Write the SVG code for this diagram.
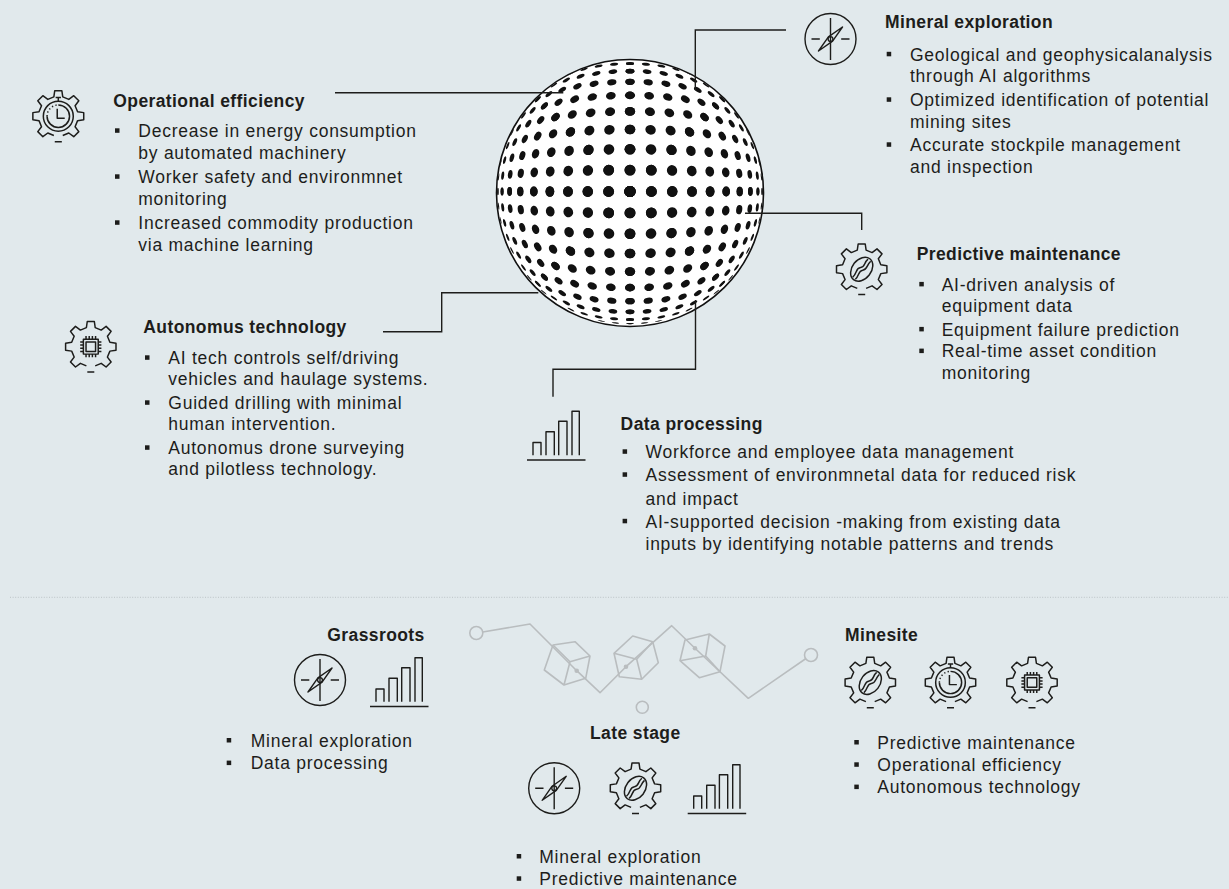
<svg xmlns="http://www.w3.org/2000/svg" width="1229" height="889" viewBox="0 0 1229 889">
  <style>
    .t { font-family: "Liberation Sans", Arial, sans-serif; font-size: 17.5px; font-weight: 700; letter-spacing: 0.4px; fill: #1d1d1b; }
    .b { font-family: "Liberation Sans", Arial, sans-serif; font-size: 17.5px; letter-spacing: 0.75px; fill: #1d1d1b; }
    .ic { fill: none; stroke: #1d1d1b; stroke-width: 1.4; stroke-linejoin: round; stroke-linecap: butt; }
    .con { fill: none; stroke: #1d1d1b; stroke-width: 1.4; }
    .net { fill: none; stroke: #b9bdbf; stroke-width: 1.6; stroke-linejoin: round; }
    .netdot { fill: #b9bdbf; }
    .sq { fill: #1d1d1b; }
  </style>
  <defs>
    <rect id="sq" class="sq" width="4.5" height="4.5"/>

    <!-- open-bottomed cog outline, outer radius 24 -->
    <path id="cog" class="ic" d="M-4.16,18.03 L-9.8,15.69 L-14.44,19.17 L-19.17,14.44 L-15.69,9.8 L-18.03,4.16 L-23.77,3.34 L-23.77,-3.34 L-18.03,-4.16 L-15.69,-9.8 L-19.17,-14.44 L-14.44,-19.17 L-9.8,-15.69 L-4.16,-18.03 L-3.34,-23.77 L3.34,-23.77 L4.16,-18.03 L9.8,-15.69 L14.44,-19.17 L19.17,-14.44 L15.69,-9.8 L18.03,-4.16 L23.77,-3.34 L23.77,3.34 L18.03,4.16 L15.69,9.8 L19.17,14.44 L14.44,19.17 L9.8,15.69 L4.16,18.03 M-3.3,23.8 H3.3"/>

    <g id="gear-timer">
      <use href="#cog"/>
      <circle class="ic" r="14"/>
      <path class="ic" d="M0,-10.5 A10.5,10.5 0 1 1 -10.5,0"/>
      <path class="ic" stroke-dasharray="1.2 2.2" d="M-10.5,0 A10.5,10.5 0 0 1 0,-10.5"/>
      <path class="ic" d="M-1,-7 V2 H6 M-2.5,-17.5 H2.5 M0,-17.5 V-14"/>
    </g>

    <g id="gear-chip">
      <use href="#cog"/>
      <rect class="ic" x="-7" y="-7" width="14" height="14"/>
      <rect class="ic" x="-4.5" y="-4.5" width="9" height="9"/>
      <path class="ic" stroke-width="1" d="M-4.5,-7 V-10 M-1.5,-7 V-10 M1.5,-7 V-10 M4.5,-7 V-10 M-4.5,7 V10 M-1.5,7 V10 M1.5,7 V10 M4.5,7 V10 M-7,-4.5 H-10 M-7,-1.5 H-10 M-7,1.5 H-10 M-7,4.5 H-10 M7,-4.5 H10 M7,-1.5 H10 M7,1.5 H10 M7,4.5 H10"/>
    </g>

    <g id="gear-link">
      <use href="#cog"/>
      <ellipse class="ic" rx="12.5" ry="9" transform="rotate(-52)"/>
      <path class="ic" d="M-8.5,7.5 C-4,3.5 -6,-1 -1,-1.5 C3.5,-2 2,-6.5 6,-9.5"/>
      <path class="ic" d="M-6,9.5 C-2,6 -3.5,1.5 1,1 C5.5,0.5 4.5,-4 8.5,-7.5"/>
    </g>

    <g id="compass">
      <circle class="ic" r="25.5"/>
      <path class="ic" d="M0,-21 V21 M-19,0 H-10.7 M10.7,0 H19"/>
      <path class="ic" fill="#e1e9ec" d="M12,-12 L2.1,2.1 L-12,12 L-2.1,-2.1 Z"/>
      <circle class="ic" fill="#e1e9ec" r="2.4"/>
    </g>

    <path id="bars" class="ic" d="M6,44.7 V32 H14 V44.7 M19,44.7 V21.3 H27.3 V44.7 M31.7,44.7 V10.7 H40 V44.7 M45,44.7 V0.7 H52.3 V44.7 M0,49.5 H58.5"/>

    <!-- one octant of the spherized dot grid; mirrored into a full sphere -->
    <g id="oct" fill="#111">
      <circle r="5.5"/>
      <ellipse transform="translate(21.41 0)" rx="5.43" ry="5.48"/>
      <ellipse transform="translate(21.31 21.31) rotate(45)" rx="5.36" ry="5.45"/>
      <ellipse transform="translate(42.25 0)" rx="5.22" ry="5.41"/>
      <ellipse transform="translate(42.07 21.03) rotate(26.6)" rx="5.15" ry="5.38"/>
      <ellipse transform="translate(41.51 41.51) rotate(45)" rx="4.94" ry="5.31"/>
      <ellipse transform="translate(62 0)" rx="4.87" ry="5.28"/>
      <ellipse transform="translate(61.73 20.58) rotate(18.4)" rx="4.8" ry="5.26"/>
      <ellipse transform="translate(60.91 40.61) rotate(33.7)" rx="4.6" ry="5.2"/>
      <ellipse transform="translate(59.55 59.55) rotate(45)" rx="4.26" ry="5.08"/>
      <ellipse transform="translate(80.12 0)" rx="4.39" ry="5.13"/>
      <ellipse transform="translate(79.77 19.94) rotate(14)" rx="4.33" ry="5.1"/>
      <ellipse transform="translate(78.7 39.35) rotate(26.6)" rx="4.12" ry="5.03"/>
      <ellipse transform="translate(76.94 57.7) rotate(36.9)" rx="3.8" ry="4.92"/>
      <ellipse transform="translate(74.49 74.49) rotate(45)" rx="3.36" ry="4.76"/>
      <ellipse transform="translate(96.17 0)" rx="3.8" ry="4.92"/>
      <ellipse transform="translate(95.73 19.15) rotate(11.3)" rx="3.74" ry="4.9"/>
      <ellipse transform="translate(94.43 37.77) rotate(21.8)" rx="3.55" ry="4.84"/>
      <ellipse transform="translate(92.26 55.36) rotate(31)" rx="3.24" ry="4.72"/>
      <ellipse transform="translate(89.31 71.45) rotate(38.7)" rx="2.81" ry="4.57"/>
      <ellipse transform="translate(85.57 85.57) rotate(45)" rx="2.28" ry="4.38"/>
      <ellipse transform="translate(109.7 0)" rx="3.11" ry="4.68"/>
      <ellipse transform="translate(109.2 18.2) rotate(9.5)" rx="3.05" ry="4.66"/>
      <ellipse transform="translate(107.7 35.9) rotate(18.4)" rx="2.87" ry="4.6"/>
      <ellipse transform="translate(105.17 52.58) rotate(26.6)" rx="2.57" ry="4.48"/>
      <ellipse transform="translate(101.69 67.79) rotate(33.7)" rx="2.17" ry="4.34"/>
      <ellipse transform="translate(97.36 81.13) rotate(39.8)" rx="1.67" ry="4.15"/>
      <ellipse transform="translate(92.19 92.19) rotate(45)" rx="1.09" ry="3.93"/>
      <ellipse transform="translate(120.37 0)" rx="2.34" ry="4.4"/>
      <ellipse transform="translate(119.79 17.11) rotate(8.1)" rx="2.28" ry="4.38"/>
      <ellipse transform="translate(118.08 33.74) rotate(16)" rx="2.12" ry="4.32"/>
      <ellipse transform="translate(115.24 49.39) rotate(23.2)" rx="1.84" ry="4.21"/>
      <ellipse transform="translate(111.38 63.65) rotate(29.7)" rx="1.45" ry="4.07"/>
      <ellipse transform="translate(106.49 76.07) rotate(35.5)" rx="0.99" ry="3.89"/>
      <ellipse transform="translate(100.66 86.28) rotate(40.6)" rx="0.55" ry="3.68"/>
      <ellipse transform="translate(127.91 0)" rx="1.51" ry="4.09"/>
      <ellipse transform="translate(127.29 15.91) rotate(7.1)" rx="1.45" ry="4.07"/>
      <ellipse transform="translate(125.39 31.35) rotate(14)" rx="1.3" ry="4.01"/>
      <ellipse transform="translate(122.31 45.87) rotate(20.6)" rx="1.04" ry="3.91"/>
      <ellipse transform="translate(118.03 59.01) rotate(26.6)" rx="0.69" ry="3.78"/>
      <ellipse transform="translate(132.11 0)" rx="0.63" ry="3.76"/>
      <ellipse transform="translate(131.44 14.6) rotate(6.3)" rx="0.59" ry="3.74"/>
      <ellipse transform="translate(129.41 28.76) rotate(12.5)" rx="0.52" ry="3.68"/>
    </g>
    <g id="quad">
      <use href="#oct"/>
      <use href="#oct" transform="matrix(0 1 1 0 0 0)"/>
    </g>
    <clipPath id="ball-clip">
      <circle cx="630" cy="193" r="133"/>
    </clipPath>
  </defs>

  <rect width="1229" height="889" fill="#e1e9ec"/>

  <!-- halftone sphere -->
  <g id="sphere">
    <circle cx="630" cy="193" r="133.5" fill="#ffffff"/>
    <g clip-path="url(#ball-clip)">
      <g transform="translate(630 191.5)">
        <use href="#quad"/>
        <use href="#quad" transform="scale(-1 1)"/>
        <use href="#quad" transform="scale(1 -1)"/>
        <use href="#quad" transform="scale(-1 -1)"/>
      </g>
    </g>
    <circle cx="630" cy="193" r="133.5" fill="none" stroke="#111" stroke-width="1.6"/>
  </g>

  <!-- leader lines from the sphere to each topic -->
  <g id="connectors">
    <polyline class="con" points="335,92.7 563.3,92.7"/>
    <polyline class="con" points="786,30 695.3,30 695.3,90"/>
    <polyline class="con" points="745,213.3 861.7,213.3 861.7,230"/>
    <polyline class="con" points="383,331.7 441.7,331.7 441.7,292.7 538.3,292.7"/>
    <polyline class="con" points="695.5,300 695.5,369.3 553,369.3 553,396.7"/>
  </g>

  <g id="node-operational-efficiency">
    <use href="#gear-timer" transform="translate(58.3 116.2) scale(1.07)"/>
    <text class="t" x="113.3" y="107">Operational efficiency</text>
    <use href="#sq" x="115" y="128.3"/>
    <use href="#sq" x="115" y="174.3"/>
    <use href="#sq" x="115" y="220.3"/>
    <text class="b" x="138.3" y="137">Decrease in energy consumption</text>
    <text class="b" x="138.3" y="159">by automated machinery</text>
    <text class="b" x="138.3" y="183">Worker safety and environmnet</text>
    <text class="b" x="138.3" y="205">monitoring</text>
    <text class="b" x="138.3" y="229">Increased commodity production</text>
    <text class="b" x="138.3" y="251">via machine learning</text>
  </g>

  <g id="node-mineral-exploration">
    <use href="#compass" transform="translate(830.5 39)"/>
    <text class="t" x="885" y="28">Mineral exploration</text>
    <use href="#sq" x="886.7" y="51.8"/>
    <use href="#sq" x="886.7" y="97.3"/>
    <use href="#sq" x="886.7" y="142.3"/>
    <text class="b" x="910" y="60.5">Geological and geophysicalanalysis</text>
    <text class="b" x="910" y="82">through AI algorithms</text>
    <text class="b" x="910" y="106">Optimized identification of potential</text>
    <text class="b" x="910" y="127.5">mining sites</text>
    <text class="b" x="910" y="151">Accurate stockpile management</text>
    <text class="b" x="910" y="172.5">and inspection</text>
  </g>

  <g id="node-predictive-maintenance">
    <use href="#gear-link" transform="translate(861.7 269.2) scale(1.06)"/>
    <text class="t" x="916.7" y="259.5">Predictive maintenance</text>
    <use href="#sq" x="919.3" y="281.9"/>
    <use href="#sq" x="919.3" y="326.9"/>
    <use href="#sq" x="919.3" y="348.6"/>
    <text class="b" x="941.7" y="290.6">AI-driven analysis of</text>
    <text class="b" x="941.7" y="312.3">equipment data</text>
    <text class="b" x="941.7" y="335.6">Equipment failure prediction</text>
    <text class="b" x="941.7" y="357.3">Real-time asset condition</text>
    <text class="b" x="941.7" y="379">monitoring</text>
  </g>

  <g id="node-autonomus-technology">
    <use href="#gear-chip" transform="translate(90.8 346.7) scale(1.06)"/>
    <text class="t" x="143.3" y="333">Autonomus technology</text>
    <use href="#sq" x="145" y="355.3"/>
    <use href="#sq" x="145" y="400.3"/>
    <use href="#sq" x="145" y="445.3"/>
    <text class="b" x="168.3" y="364">AI tech controls self/driving</text>
    <text class="b" x="168.3" y="385">vehicles and haulage systems.</text>
    <text class="b" x="168.3" y="409">Guided drilling with minimal</text>
    <text class="b" x="168.3" y="430">human intervention.</text>
    <text class="b" x="168.3" y="454">Autonomus drone surveying</text>
    <text class="b" x="168.3" y="475">and pilotless technology.</text>
  </g>

  <g id="node-data-processing">
    <use href="#bars" transform="translate(527 410.5)"/>
    <text class="t" x="620.6" y="429.5">Data processing</text>
    <use href="#sq" x="622.6" y="449.3"/>
    <use href="#sq" x="622.6" y="472.3"/>
    <use href="#sq" x="622.6" y="518.8"/>
    <text class="b" x="645.5" y="458">Workforce and employee data management</text>
    <text class="b" x="645.5" y="481">Assessment of environmnetal data for reduced risk</text>
    <text class="b" x="645.5" y="504.5">and impact</text>
    <text class="b" x="645.5" y="527.5">AI-supported decision -making from existing data</text>
    <text class="b" x="645.5" y="550">inputs by identifying notable patterns and trends</text>
  </g>

  <!-- section divider -->
  <line x1="10" y1="597.3" x2="1229" y2="597.3" stroke="#bcc3c6" stroke-width="1" stroke-dasharray="1 1.6"/>

  <!-- decorative chain of cubes -->
  <g id="cube-chain">
    <circle class="net" cx="476.3" cy="633" r="6.5"/>
    <circle class="net" cx="811" cy="655" r="6.5"/>
    <circle class="net" cx="642.3" cy="707.3" r="6"/>
    <polyline class="net" points="482.8,632 530,624 576.7,670.7 600,692.7 626,666.7 671.7,625.7 695,648.3 748.3,698.3 806,658.5"/>
    <path class="net" d="M553,645 L575,641.7 L590,656 L585.7,678.3 L564,685 L544.3,670 Z M553,645 L570,661.7 L590,656 M570,661.7 L564,685"/>
    <path class="net" d="M614,653.3 L632.7,636 L652.7,641.7 L658.3,662.7 L641.7,679.3 L619.3,676.7 Z M614,653.3 L636.7,659.3 L652.7,641.7 M636.7,659.3 L641.7,679.3"/>
    <path class="net" d="M685,640 L709.3,634 L725,646 L720,671.7 L699.3,677.7 L680,660.7 Z M680,660.7 L705.7,656 L709.3,634 M705.7,656 L720,671.7"/>
    <circle class="netdot" cx="576.7" cy="670.7" r="2.3"/>
    <circle class="netdot" cx="626" cy="666.7" r="2.3"/>
    <circle class="netdot" cx="695" cy="648.3" r="2.3"/>
  </g>

  <g id="node-grassroots">
    <text class="t" x="327.3" y="641.2">Grassroots</text>
    <use href="#compass" transform="translate(320 680)"/>
    <use href="#bars" transform="translate(370 657)"/>
    <use href="#sq" x="226.7" y="738"/>
    <use href="#sq" x="226.7" y="760.6"/>
    <text class="b" x="250.7" y="746.7">Mineral exploration</text>
    <text class="b" x="250.7" y="769.3">Data processing</text>
  </g>

  <g id="node-late-stage">
    <text class="t" x="590" y="739">Late stage</text>
    <use href="#compass" transform="translate(554.2 788.3)"/>
    <use href="#gear-link" transform="translate(635.5 788.3) scale(1.06)"/>
    <use href="#bars" transform="translate(687.7 764)"/>
    <use href="#sq" x="516.7" y="854"/>
    <use href="#sq" x="516.7" y="876.3"/>
    <text class="b" x="539.3" y="862.7">Mineral exploration</text>
    <text class="b" x="539.3" y="885">Predictive maintenance</text>
  </g>

  <g id="node-minesite">
    <text class="t" x="845" y="641.2">Minesite</text>
    <use href="#gear-link" transform="translate(870.3 682.5) scale(1.06)"/>
    <use href="#gear-timer" transform="translate(950.5 682.5) scale(1.06)"/>
    <use href="#gear-chip" transform="translate(1032 682.5) scale(1.06)"/>
    <use href="#sq" x="854.3" y="740"/>
    <use href="#sq" x="854.3" y="762.3"/>
    <use href="#sq" x="854.3" y="784.6"/>
    <text class="b" x="877.3" y="748.7">Predictive maintenance</text>
    <text class="b" x="877.3" y="771">Operational efficiency</text>
    <text class="b" x="877.3" y="793.3">Autonomous technology</text>
  </g>
</svg>
